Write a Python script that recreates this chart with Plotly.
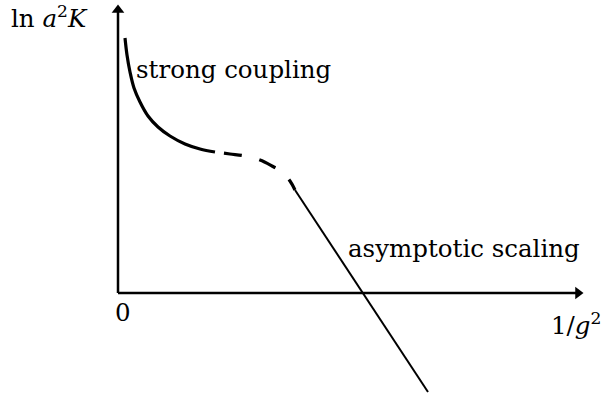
import plotly.graph_objects as go

# Strong-coupling branch (solid), crossover (dashed) and asymptotic-scaling line
strong_x = [0.07, 0.09, 0.12, 0.16, 0.22, 0.30, 0.40, 0.52, 0.67, 0.82, 0.97]
strong_y = [2.55, 2.38, 2.21, 2.05, 1.91, 1.77, 1.66, 1.57, 1.49, 1.44, 1.41]

cross_x = [0.97, 1.12, 1.27, 1.42, 1.54, 1.64, 1.72, 1.77]
cross_y = [1.41, 1.39, 1.37, 1.33, 1.27, 1.21, 1.12, 1.03]

asym_x = [1.77, 3.10]
asym_y = [1.03, -0.99]

# extent of the drawn axes (origin at 0, 0)
x_axis_end = 4.60
y_axis_end = 2.83

FONT = "DejaVu Serif"
SIZE = 24.5

fig = go.Figure()

# axis lines
fig.add_trace(go.Scatter(x=[0, x_axis_end], y=[0, 0], mode="lines",
                         line=dict(color="black", width=2.5)))
fig.add_trace(go.Scatter(x=[0, 0], y=[0, y_axis_end], mode="lines",
                         line=dict(color="black", width=2.5)))
# arrowheads
fig.add_trace(go.Scatter(x=[x_axis_end], y=[0], mode="markers",
                         marker=dict(symbol="triangle-right", size=11, color="black",
                                     line=dict(width=0))))
fig.add_trace(go.Scatter(x=[0], y=[y_axis_end], mode="markers",
                         marker=dict(symbol="triangle-up", size=11, color="black",
                                     line=dict(width=0))))

fig.add_trace(go.Scatter(x=strong_x, y=strong_y, mode="lines",
                         line=dict(color="black", width=3.2, shape="spline")))
# crossover: pattern starts with a gap so the solid branch ends cleanly
fig.add_trace(go.Scatter(x=cross_x, y=cross_y, mode="lines",
                         line=dict(color="black", width=3.2, shape="spline",
                                   dash="0px,9px,18px,9px")))
fig.add_trace(go.Scatter(x=asym_x, y=asym_y, mode="lines",
                         line=dict(color="black", width=2)))


def label(x, y, text, xanchor="left", size=SIZE):
    fig.add_annotation(x=x, y=y, xref="x", yref="y", text=text, showarrow=False,
                       xanchor=xanchor, yanchor="middle",
                       font=dict(family=FONT, size=size, color="black"))


label(-1.09, 2.76, "ln <i>a</i><sup>2</sup><i>K</i>")
label(0.16, 2.24, "strong coupling")
label(2.28, 0.45, "asymptotic scaling")
label(0.05, -0.19, "0", xanchor="center")
label(4.85, -0.31, "1/<i>g</i><sup>2</sup>", xanchor="right")

fig.update_layout(
    width=603, height=395, margin=dict(l=0, r=0, t=0, b=0),
    paper_bgcolor="white", plot_bgcolor="white", showlegend=False,
    xaxis=dict(range=[-1.18, 4.85], visible=False, fixedrange=True),
    yaxis=dict(range=[-1.02, 2.93], visible=False, fixedrange=True),
)
fig.write_html("out.html")
